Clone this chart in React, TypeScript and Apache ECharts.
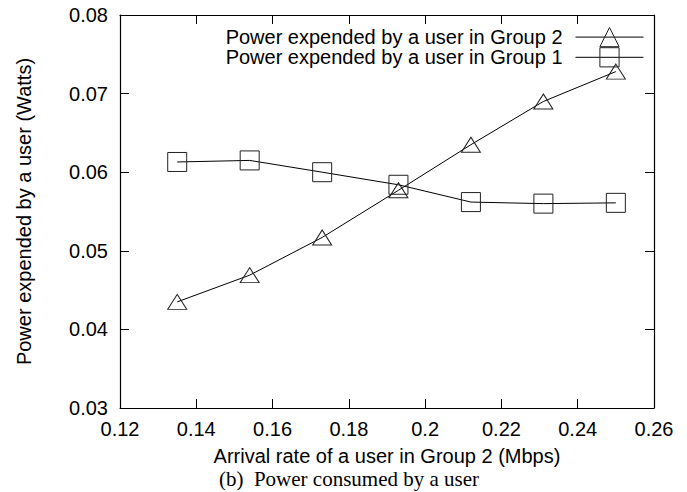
import React, { useEffect, useRef } from "react";
import * as echarts from "echarts";

const xValues = [0.135, 0.154, 0.173, 0.193, 0.212, 0.231, 0.25];
const group2Power = [0.0435, 0.0469, 0.0517, 0.0577, 0.0635, 0.069, 0.0728];
const group1Power = [0.0613, 0.0615, 0.06, 0.0584, 0.0562, 0.056, 0.0561];
const seriesNames = [
  "Power expended by a user in Group 2",
  "Power expended by a user in Group 1",
];
const xAxisTitle = "Arrival rate of a user in Group 2 (Mbps)";
const yAxisTitle = "Power expended by a user (Watts)";
const caption = "(b)  Power consumed by a user";

const SANS = "'Liberation Sans', Arial, Helvetica, sans-serif";
const SERIF = "'Liberation Serif', 'Times New Roman', serif";

export default function App() {
  const ref = useRef<HTMLDivElement>(null);
  useEffect(() => {
    if (!ref.current) return;
    const chart = echarts.init(ref.current, null, { renderer: "svg" });
    const tickCommon = {
      show: true,
      inside: true,
      length: 9,
      lineStyle: { color: "#000", width: 1 },
    };
    const axisLine = { show: true, lineStyle: { color: "#000", width: 1.2 } };
    const fmtX = (v: number) => String(Number(v.toFixed(2)));
    const fmtY = (v: number) => v.toFixed(2);
    const mk = (name: string, vals: number[], symbol: string, size: any) => ({
      name,
      type: "line",
      data: xValues.map((x, i) => [x, vals[i]]),
      symbol,
      symbolSize: size,
      showAllSymbol: true,
      lineStyle: { color: "#000", width: 1 },
      itemStyle: { color: "rgba(0,0,0,0)", borderColor: "#222", borderWidth: 1 },
      emphasis: { disabled: true },
      z: 3,
    });
    chart.setOption({
      animation: false,
      textStyle: { fontFamily: SANS },
      grid: { left: 120, right: 33, top: 15, bottom: 84, containLabel: false },
      legend: {
        data: [seriesNames[0], seriesNames[1]],
        orient: "vertical",
        right: 38,
        top: 22,
        align: "right",
        itemWidth: 68,
        itemHeight: 24,
        itemGap: 0,
        itemStyle: { borderWidth: 1, borderColor: "#222", color: "rgba(0,0,0,0)" },
        lineStyle: { width: 1, color: "#000" },
        textStyle: {
          fontFamily: SANS,
          fontSize: 20,
          color: "#000",
          padding: [0, 8, 0, 0],
        },
      },
      xAxis: [
        {
          type: "value",
          min: 0.12,
          max: 0.26,
          interval: 0.02,
          position: "bottom",
          axisLine,
          axisTick: tickCommon,
          splitLine: { show: false },
          axisLabel: {
            formatter: fmtX,
            fontSize: 20,
            color: "#000",
            margin: 11,
            fontFamily: SANS,
          },
          name: xAxisTitle,
          nameLocation: "middle",
          nameGap: 38,
          nameTextStyle: { fontSize: 20, color: "#000", fontFamily: SANS },
        },
        {
          type: "value",
          min: 0.12,
          max: 0.26,
          interval: 0.02,
          position: "top",
          axisLine,
          axisTick: tickCommon,
          splitLine: { show: false },
          axisLabel: { show: false },
        },
      ],
      yAxis: [
        {
          type: "value",
          min: 0.03,
          max: 0.08,
          interval: 0.01,
          position: "left",
          axisLine,
          axisTick: tickCommon,
          splitLine: { show: false },
          axisLabel: {
            formatter: fmtY,
            fontSize: 20,
            color: "#000",
            margin: 12,
            fontFamily: SANS,
          },
          name: yAxisTitle,
          nameLocation: "middle",
          nameGap: 86,
          nameTextStyle: { fontSize: 20, color: "#000", fontFamily: SANS },
        },
        {
          type: "value",
          min: 0.03,
          max: 0.08,
          interval: 0.01,
          position: "right",
          axisLine,
          axisTick: tickCommon,
          splitLine: { show: false },
          axisLabel: { show: false },
        },
      ],
      series: [
        mk(seriesNames[1], group1Power, "rect", 19),
        mk(seriesNames[0], group2Power, "triangle", [19, 15]),
      ],
      graphic: [
        {
          type: "text",
          x: 349,
          y: 479,
          style: {
            text: caption,
            font: `21px ${SERIF}`,
            fill: "#000",
            textAlign: "center",
            textVerticalAlign: "middle",
          },
        },
      ],
    });
    return () => chart.dispose();
  }, []);
  return (
    <div
      ref={ref}
      style={{ position: "fixed", left: 0, top: 0, width: 687, height: 492, background: "#fff" }}
    />
  );
}
